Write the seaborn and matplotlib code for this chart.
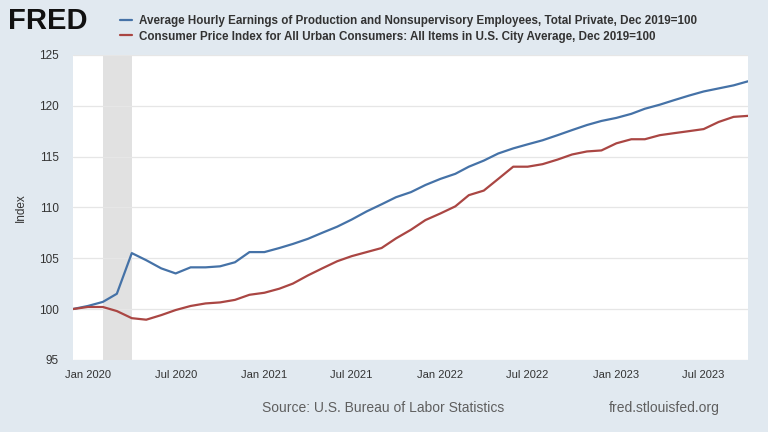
import pandas as pd
import matplotlib.pyplot as plt
import matplotlib.dates as mdates
import seaborn as sns

# Monthly observations, Dec 2019 .. Oct 2023 (index, Dec 2019 = 100)
months = pd.date_range("2019-12-01", "2023-10-01", freq="MS")

earnings = [100.0,
            100.3, 100.7, 101.5, 105.5, 104.8, 104.0, 103.5, 104.1, 104.1, 104.2, 104.6, 105.6,
            105.6, 106.0, 106.4, 106.9, 107.5, 108.1, 108.8, 109.6, 110.3, 111.0, 111.5, 112.2,
            112.8, 113.3, 114.0, 114.6, 115.3, 115.8, 116.2, 116.6, 117.1, 117.6, 118.1, 118.5,
            118.8, 119.2, 119.7, 120.1, 120.55, 121.0, 121.4, 121.7, 122.0, 122.4]

cpi = [100.0,
       100.2, 100.2, 99.8, 99.1, 98.95, 99.4, 99.9, 100.3, 100.55, 100.65, 100.9, 101.4,
       101.6, 102.0, 102.5, 103.3, 104.0, 104.7, 105.2, 105.6, 106.0, 106.95, 107.8, 108.75,
       109.4, 110.1, 111.2, 111.65, 112.8, 114.0, 114.0, 114.25, 114.7, 115.2, 115.5, 115.6,
       116.3, 116.7, 116.7, 117.1, 117.3, 117.5, 117.7, 118.4, 118.9, 119.0]

series_names = [
    "Average Hourly Earnings of Production and Nonsupervisory Employees, Total Private, Dec 2019=100",
    "Consumer Price Index for All Urban Consumers: All Items in U.S. City Average, Dec 2019=100",
]
series_colors = ["#4572a7", "#aa4643"]

recession_start = pd.Timestamp("2020-02-01")
recession_end = pd.Timestamp("2020-04-01")

y_ticks = [95, 100, 105, 110, 115, 120, 125]

df = pd.DataFrame({"date": months, "earnings": earnings, "cpi": cpi})

sns.set_theme(style="white")
plt.rcParams["font.family"] = ["Liberation Sans", "DejaVu Sans"]

bg = "#e1e9f0"
fig = plt.figure(figsize=(7.68, 4.32), dpi=100, facecolor=bg)
ax = fig.add_axes([0.095, 0.167, 0.879, 0.706])
ax.set_facecolor("white")

ax.axvspan(recession_start, recession_end, color="#e1e1e1", lw=0, zorder=0)

sns.lineplot(data=df, x="date", y="earnings", ax=ax, color=series_colors[0],
             linewidth=1.6, label=series_names[0])
sns.lineplot(data=df, x="date", y="cpi", ax=ax, color=series_colors[1],
             linewidth=1.6, label=series_names[1])

ax.set_xlim(months[0], months[-1])
ax.set_ylim(95, 125)
ax.set_yticks(y_ticks)
ax.yaxis.grid(True, color="#e6e6e6", linewidth=0.9)
ax.xaxis.grid(False)
for s in ax.spines.values():
    s.set_visible(False)

ax.xaxis.set_major_locator(mdates.MonthLocator(bymonth=[1, 7]))
ax.xaxis.set_major_formatter(mdates.DateFormatter("%b %Y"))
ax.tick_params(axis="x", length=5, color="#ccd6eb", labelsize=8, labelcolor="#333333", pad=2)
ax.tick_params(axis="y", length=0, labelsize=8.5, labelcolor="#333333", pad=10)

ax.set_xlabel("")
ax.set_ylabel("Index", fontsize=8.5, color="#333333")
ax.yaxis.set_label_coords(-0.068, 0.5)

# header legend
handles, labels = ax.get_legend_handles_labels()
ax.get_legend().remove()
fig.legend(handles, labels, loc="upper left", bbox_to_anchor=(0.142, 0.99),
           frameon=False, handlelength=1.1, handletextpad=0.55, labelspacing=0.32,
           prop={"size": 8.4, "weight": "bold"}, labelcolor="#333333")

fig.text(0.011, 0.952, "FRED", fontsize=21, fontweight="bold", color="#111111",
         ha="left", va="center")

fig.text(0.499, 0.056, "Source: U.S. Bureau of Labor Statistics", fontsize=10,
         color="#5f5f5f", ha="center", va="center")
fig.text(0.937, 0.056, "fred.stlouisfed.org", fontsize=10,
         color="#5f5f5f", ha="right", va="center")

fig.savefig("out.png", dpi=100, facecolor=bg)
